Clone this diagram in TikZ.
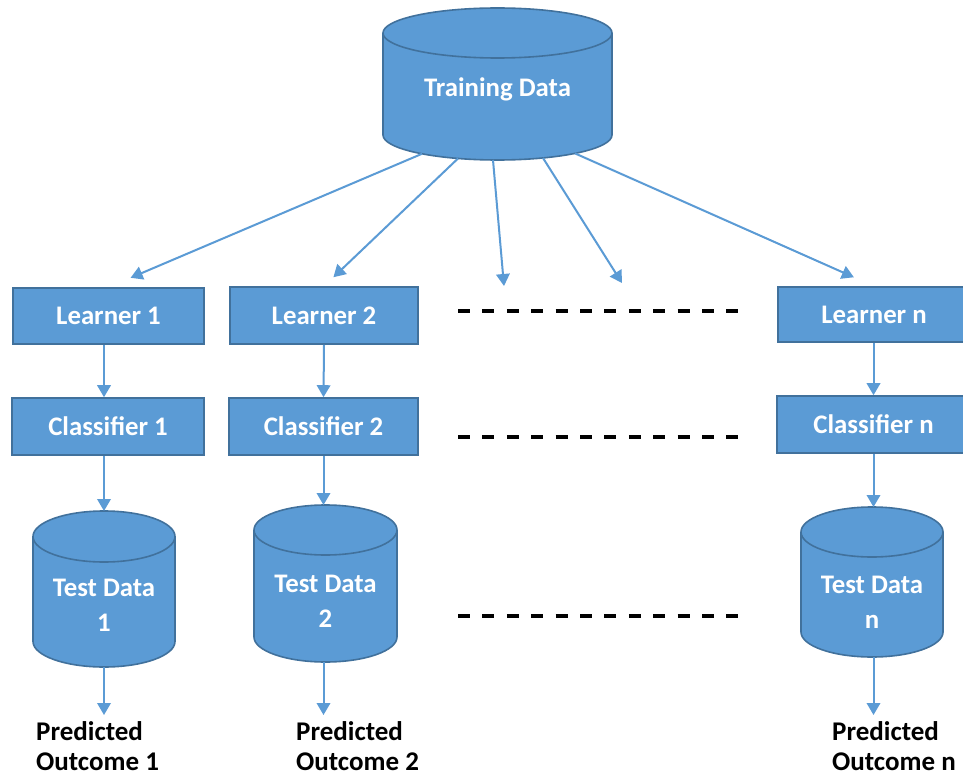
\documentclass[tikz,border=0pt]{standalone}
\usepackage{fontspec}
\setmainfont{Carlito}
\usetikzlibrary{arrows.meta,calc}
\definecolor{fillblue}{HTML}{5B9BD5}
\definecolor{edgeblue}{HTML}{41719C}
\begin{document}
\begin{tikzpicture}[x=1pt,y=-1pt,
  box/.style={draw=edgeblue, line width=1.6pt, fill=fillblue, text=white,
    font=\bfseries\fontsize{26.8}{31}\selectfont, inner sep=0pt},
  cylbody/.style={draw=edgeblue, line width=1.6pt, fill=fillblue},
  cyltext/.style={text=white, font=\bfseries\fontsize{26.8}{35}\selectfont, align=center, inner sep=0pt},
  ghost/.style={inner sep=0pt, outer sep=0pt},
  arr/.style={draw=fillblue, line width=2pt, -{Triangle[length=12pt,width=13.5pt]}},
  outtext/.style={font=\bfseries\fontsize{27}{30.5}\selectfont, align=left, anchor=north west, inner sep=0pt},
  dotline/.style={line width=4.5pt, dash pattern=on 12pt off 12.4pt}
]
\useasboundingbox (0,0) rectangle (963,778);
\fill[white] (0,0) rectangle (963,778);
\clip (0,0) rectangle (963,778);

% ---------- Training data cylinder ----------
\path[cylbody] (383,33) -- (383,135) arc[start angle=180,end angle=360,x radius=114.5pt,y radius=25pt]
  -- (612,33) arc[start angle=0,end angle=180,x radius=114.5pt,y radius=25pt] -- cycle;
\draw[edgeblue, line width=1.6pt] (383,33) arc[start angle=180,end angle=360,x radius=114.5pt,y radius=25pt];
\node[ghost, minimum width=229pt, minimum height=152pt] (TD) at (497.5,84) {};
\node[cyltext] (TDt) at (497.5,89) {Training Data};

% ---------- Learners ----------
\node[box, minimum width=191pt, minimum height=56pt] (L1) at (108.5,316) {Learner 1};
\node[box, minimum width=188pt, minimum height=57pt] (L2) at (324,315.5) {Learner 2};
\node[box, minimum width=192pt, minimum height=55pt] (Ln) at (874,314.5) {Learner n};

% ---------- Classifiers ----------
\node[box, minimum width=192pt, minimum height=57pt] (C1) at (108,426.5) {Classifier 1};
\node[box, minimum width=189pt, minimum height=57pt] (C2) at (323.5,426.5) {Classifier 2};
\node[box, minimum width=193pt, minimum height=57pt] (Cn) at (873.5,424.5) {Classifier n};

% ---------- Test data cylinders ----------
\path[cylbody] (33,536.5) -- (33,641.5) arc[start angle=180,end angle=360,x radius=71pt,y radius=25.5pt]
  -- (175,536.5) arc[start angle=0,end angle=180,x radius=71pt,y radius=25.5pt] -- cycle;
\draw[edgeblue, line width=1.6pt] (33,536.5) arc[start angle=180,end angle=360,x radius=71pt,y radius=25.5pt];
\node[ghost, minimum width=142pt, minimum height=156pt] (T1) at (104,589) {};
\node[cyltext] (T1t) at (104,605) {Test Data\\1};

\path[cylbody] (254,530) -- (254,637) arc[start angle=180,end angle=360,x radius=71.5pt,y radius=25pt]
  -- (397,530) arc[start angle=0,end angle=180,x radius=71.5pt,y radius=25pt] -- cycle;
\draw[edgeblue, line width=1.6pt] (254,530) arc[start angle=180,end angle=360,x radius=71.5pt,y radius=25pt];
\node[ghost, minimum width=143pt, minimum height=157pt] (T2) at (325.5,583.5) {};
\node[cyltext] (T2t) at (325.5,601) {Test Data\\2};

\path[cylbody] (801,532) -- (801,632) arc[start angle=180,end angle=360,x radius=71pt,y radius=25pt]
  -- (943,532) arc[start angle=0,end angle=180,x radius=71pt,y radius=25pt] -- cycle;
\draw[edgeblue, line width=1.6pt] (801,532) arc[start angle=180,end angle=360,x radius=71pt,y radius=25pt];
\node[ghost, minimum width=142pt, minimum height=150pt] (Tn) at (872,582) {};
\node[cyltext] (Tnt) at (872,602) {Test Data\\n};

% ---------- Outcomes ----------
\node[outtext] (P1) at (36,721) {Predicted\\Outcome 1};
\node[outtext] (P2) at (296,721) {Predicted\\Outcome 2};
\node[outtext] (Pn) at (832,721) {Predicted\\Outcome n};

% ---------- Arrows from training data ----------
\coordinate (e3) at (504,286);
\coordinate (e4) at (622,283);
\draw[arr, shorten >=24pt] ($(TD.south)+(-75.5,-6.2)$) -- (L1.north);
\draw[arr, shorten >=13pt] ($(TD.south)+(-39.5,-1.5)$) -- (L2.north);
\draw[arr] ($(TD.south)+(-4.5,0)$) -- (e3);
\draw[arr] ($(TD.south)+(45.5,-2)$) -- (e4);
\draw[arr, shorten >=22pt] ($(TD.south)+(77.5,-6.6)$) -- (Ln.north);

% ---------- Column arrows ----------
\draw[arr] (L1.south -| T1.north) -- (C1.north -| T1.north);
\draw[arr] (C1.south -| T1.north) -- (T1.north);
\draw[arr, shorten >=6pt] (T1.south) -- (T1.south |- P1.north);

\draw[arr] (L2.south) -- (C2.north);
\draw[arr] (C2.south) -- (C2.south |- T2.north);
\draw[arr, shorten >=6pt] (T2.south -| C2.south) -- (C2.south |- P2.north);

\draw[arr] (Ln.south -| Cn.north) -- (Cn.north);
\draw[arr] (Cn.south) -- (Cn.south |- Tn.north);
\draw[arr, shorten >=6pt] (Tn.south -| Cn.south) -- (Cn.south |- Pn.north);

% ---------- Dotted continuation ----------
\coordinate (da1) at (458,311); \coordinate (db1) at (740,311);
\coordinate (da2) at (458,437); \coordinate (db2) at (740,437);
\coordinate (da3) at (458,616); \coordinate (db3) at (740,616);
\draw[dotline] (da1) -- (db1);
\draw[dotline] (da2) -- (db2);
\draw[dotline] (da3) -- (db3);
\end{tikzpicture}
\end{document}
